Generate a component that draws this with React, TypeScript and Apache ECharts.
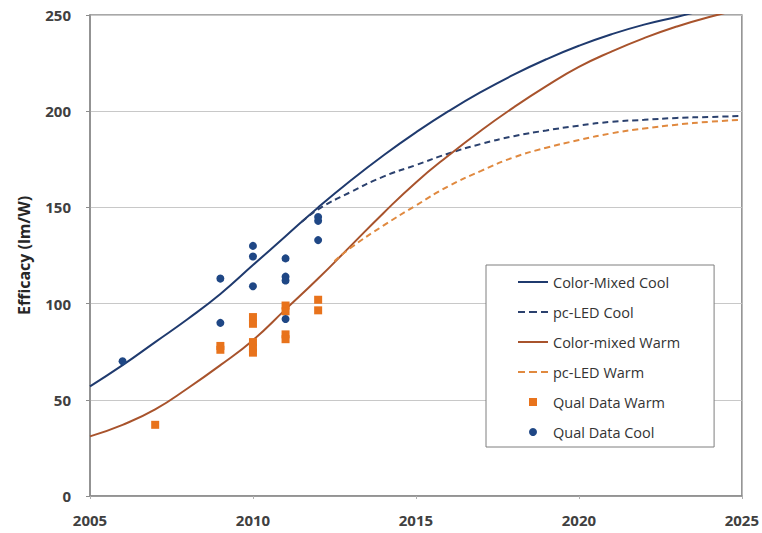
import React, { useEffect, useRef } from "react";
import * as echarts from "echarts";

const cmYears = [2005, 2006, 2007, 2008, 2009, 2010, 2011, 2012, 2013, 2014, 2015, 2016, 2017, 2018, 2019, 2020, 2021, 2022, 2023, 2024, 2025];
const cmCoolValues = [57, 68, 80, 92, 105, 120, 135, 150, 164, 177, 189, 200, 210, 219, 227, 234, 240, 245, 249, 253, 256];
const cmWarmValues = [31, 37, 45, 56, 68, 81, 97, 113, 130, 147, 163, 177, 190, 202, 213, 223, 231, 238, 244, 249, 253];

const pcCoolYears = [2011.5, 2012, 2013, 2014, 2015, 2016, 2017, 2018, 2019, 2020, 2021, 2022, 2023, 2024, 2025];
const pcCoolValues = [142.5, 149, 158, 166, 172, 178, 183, 187, 190, 192.5, 194.5, 195.5, 196.5, 197, 197.5];

const pcWarmYears = [2012.5, 2013, 2014, 2015, 2016, 2017, 2018, 2019, 2020, 2021, 2022, 2023, 2024, 2025];
const pcWarmValues = [122, 129, 140.5, 151, 161, 169, 176, 181, 185, 188.5, 191, 193, 194.5, 195.5];

const qualWarmYears = [2007, 2009, 2009, 2010, 2010, 2010, 2010, 2010, 2011, 2011, 2011, 2011, 2012, 2012];
const qualWarmValues = [37, 78, 76, 93, 89.5, 80, 77, 74.5, 99, 96, 84, 81.5, 102, 96.5];

const qualCoolYears = [2006, 2009, 2009, 2010, 2010, 2010, 2011, 2011, 2011, 2011, 2012, 2012, 2012];
const qualCoolValues = [70, 113, 90, 130, 124.5, 109, 123.5, 114, 112, 92, 145, 143, 133];

const seriesNames = ["Color-Mixed Cool", "pc-LED Cool", "Color-mixed Warm", "pc-LED Warm", "Qual Data Warm", "Qual Data Cool"];
const xTicks = { min: 2005, max: 2025, interval: 5 };
const yTicks = { min: 0, max: 250, interval: 50 };
const yAxisTitle = "Efficacy (lm/W)";

const pair = (xs: number[], ys: number[]) => xs.map((x, i) => [x, ys[i]]);

const FONT = "'Open Sans', 'Noto Sans', sans-serif";

const ICON_SOLID = "path://M0,0h30v2h-30z";
const ICON_DASHED = "path://M0,0h7v2h-7zM11,0h8v2h-8zM23,0h7v2h-7z";
const ICON_SQUARE = "path://M0,0h1v1h-1z";

export default function App() {
  const ref = useRef<HTMLDivElement>(null);
  useEffect(() => {
    if (!ref.current) return;
    const chart = echarts.init(ref.current, undefined, { renderer: "svg" });
    const axisGray = "#8c8c8c";
    const legendIcons = [ICON_SOLID, ICON_DASHED, ICON_SOLID, ICON_DASHED, ICON_SQUARE, "circle"];
    chart.setOption({
      animation: false,
      backgroundColor: "#ffffff",
      grid: {
        left: 90,
        right: 20,
        top: 15,
        bottom: 37,
        show: true,
        borderColor: axisGray,
        borderWidth: 1.5,
        backgroundColor: "transparent",
      },
      xAxis: {
        type: "value",
        min: xTicks.min,
        max: xTicks.max,
        interval: xTicks.interval,
        axisLine: { show: true, lineStyle: { color: axisGray, width: 1.5 } },
        axisTick: { show: true, length: 3, lineStyle: { color: "#b0b0b0" } },
        splitLine: { show: false },
        axisLabel: {
          margin: 16,
          fontFamily: FONT,
          fontSize: 15,
          fontWeight: "bold",
          color: "#404040",
          formatter: (v: number) => String(v),
        },
      },
      yAxis: {
        type: "value",
        min: yTicks.min,
        max: yTicks.max,
        interval: yTicks.interval,
        name: yAxisTitle,
        nameLocation: "middle",
        nameGap: 58,
        nameRotate: 90,
        nameTextStyle: { fontFamily: FONT, fontSize: 16, fontWeight: "bold", color: "#262626" },
        axisLine: { show: true, lineStyle: { color: axisGray, width: 1.5 } },
        axisTick: { show: true, length: 4, lineStyle: { color: axisGray } },
        splitLine: { show: true, lineStyle: { color: "#c8c8c8", width: 1.2 } },
        axisLabel: {
          margin: 19,
          fontFamily: FONT,
          fontSize: 15,
          fontWeight: "bold",
          color: "#404040",
        },
      },
      legend: {
        orient: "vertical",
        left: 486,
        top: 265,
        backgroundColor: "#ffffff",
        borderColor: "#7f7f7f",
        borderWidth: 1,
        borderRadius: 0,
        padding: [9, 34, 7, 32],
        itemWidth: 30,
        itemHeight: 8,
        itemGap: 14,
        symbolKeepAspect: true,
        textStyle: { fontFamily: FONT, fontSize: 14.5, color: "#333333", lineHeight: 16 },
        data: seriesNames.map((name, i) => ({ name, icon: legendIcons[i] })),
      },
      series: [
        {
          name: seriesNames[0],
          type: "line",
          smooth: true,
          symbol: "none",
          data: pair(cmYears, cmCoolValues),
          lineStyle: { color: "#1f3a6e", width: 2 },
          itemStyle: { color: "#1f3a6e" },
          z: 3,
        },
        {
          name: seriesNames[1],
          type: "line",
          smooth: true,
          symbol: "none",
          data: pair(pcCoolYears, pcCoolValues),
          lineStyle: { color: "#2b416e", width: 2, type: [6, 4] },
          itemStyle: { color: "#2b416e" },
          z: 3,
        },
        {
          name: seriesNames[2],
          type: "line",
          smooth: true,
          symbol: "none",
          data: pair(cmYears, cmWarmValues),
          lineStyle: { color: "#a8532c", width: 2 },
          itemStyle: { color: "#a8532c" },
          z: 3,
        },
        {
          name: seriesNames[3],
          type: "line",
          smooth: true,
          symbol: "none",
          data: pair(pcWarmYears, pcWarmValues),
          lineStyle: { color: "#e0893f", width: 2, type: [6, 4] },
          itemStyle: { color: "#e0893f" },
          z: 3,
        },
        {
          name: seriesNames[4],
          type: "scatter",
          symbol: "rect",
          symbolSize: 8,
          data: pair(qualWarmYears, qualWarmValues),
          itemStyle: { color: "#e8731c", opacity: 1 },
          z: 4,
        },
        {
          name: seriesNames[5],
          type: "scatter",
          symbol: "circle",
          symbolSize: 8,
          data: pair(qualCoolYears, qualCoolValues),
          itemStyle: { color: "#1f4785", opacity: 1 },
          z: 5,
        },
      ],
    });
    return () => chart.dispose();
  }, []);
  return (
    <div
      ref={ref}
      style={{ position: "fixed", left: 0, top: 0, width: 762, height: 533, background: "#fff" }}
    />
  );
}
